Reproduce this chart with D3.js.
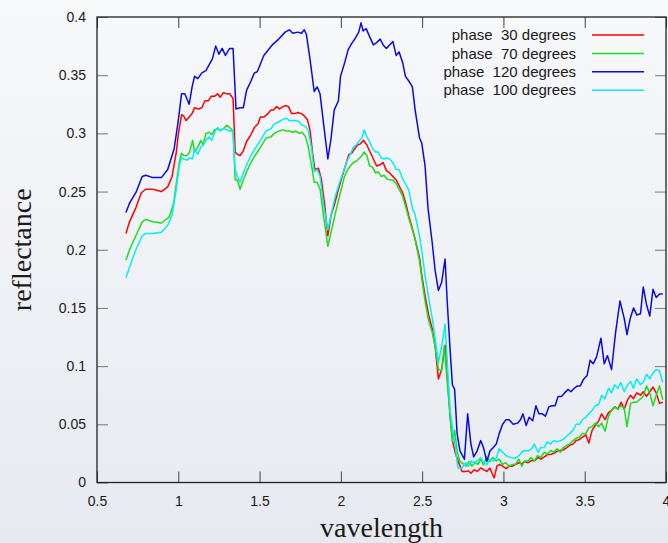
<!DOCTYPE html>
<html>
<head>
<meta charset="utf-8">
<script src="https://cdn.jsdelivr.net/npm/d3@7"></script>
<style>
  html, body { margin: 0; padding: 0; }
  body { width: 668px; height: 543px; overflow: hidden;
         background: linear-gradient(#f7f8fa, #e6eaf0); }
  text { font-family: "Liberation Sans", Arial, sans-serif; fill: #1a1a1a; }
  .title { font-family: "Liberation Serif", "Times New Roman", serif; }
</style>
</head>
<body>
<div id="chart"></div>
<script>
// wavelength (x) / reflectance (y) pairs
const phase30 = [
  [0.678,0.214],[0.70,0.224],[0.739,0.236],[0.773,0.249],[0.80,0.252],[0.844,0.252],[0.896,0.250],[0.935,0.254],
  [0.962,0.263],[0.988,0.284],[1.0,0.299],[1.02,0.316],[1.033,0.315],[1.048,0.311],[1.067,0.314],[1.085,0.317],
  [1.10,0.322],[1.125,0.321],[1.145,0.322],[1.164,0.328],[1.185,0.328],[1.203,0.332],[1.224,0.332],[1.242,0.334],
  [1.258,0.331],[1.277,0.335],[1.298,0.334],[1.316,0.334],[1.337,0.330],[1.35,0.284],[1.363,0.282],[1.38,0.281],
  [1.40,0.285],[1.42,0.293],[1.447,0.299],[1.468,0.305],[1.49,0.308],[1.505,0.314],[1.526,0.314],[1.552,0.317],
  [1.57,0.320],[1.586,0.320],[1.605,0.323],[1.623,0.321],[1.644,0.323],[1.662,0.324],[1.678,0.323],[1.697,0.317],
  [1.715,0.317],[1.736,0.318],[1.757,0.317],[1.775,0.315],[1.794,0.312],[1.81,0.303],[1.828,0.281],[1.84,0.269],
  [1.862,0.270],[1.88,0.261],[1.90,0.239],[1.92,0.212],[1.94,0.230],[1.959,0.238],[1.985,0.252],[2.01,0.264],
  [2.03,0.273],[2.05,0.282],[2.068,0.283],[2.085,0.287],[2.103,0.290],[2.12,0.291],[2.14,0.294],[2.16,0.290],
  [2.18,0.284],[2.20,0.278],[2.22,0.272],[2.24,0.273],[2.26,0.275],[2.28,0.268],[2.30,0.266],[2.32,0.263],
  [2.34,0.260],[2.358,0.255],[2.38,0.249],[2.397,0.241],[2.418,0.229],[2.44,0.218],[2.457,0.209],[2.484,0.193],
  [2.50,0.176],[2.52,0.159],[2.54,0.144],[2.562,0.132],[2.58,0.117],[2.60,0.089],[2.62,0.097],[2.641,0.118],
  [2.654,0.093],[2.672,0.057],[2.688,0.035],[2.707,0.024],[2.728,0.016],[2.746,0.0095],[2.767,0.0095],[2.785,0.010],
  [2.80,0.008],[2.82,0.011],[2.838,0.0095],[2.86,0.0125],[2.877,0.011],[2.898,0.0095],[2.917,0.0125],[2.93,0.008],
  [2.943,0.004],[2.96,0.014],[2.977,0.0155],[2.995,0.014],[3.016,0.012],[3.035,0.014],[3.056,0.014],[3.074,0.0155],
  [3.095,0.017],[3.113,0.016],[3.13,0.018],[3.152,0.017],[3.173,0.019],[3.19,0.0185],[3.213,0.0215],[3.23,0.020],
  [3.252,0.022],[3.27,0.024],[3.29,0.024],[3.31,0.025],[3.33,0.027],[3.35,0.0275],[3.368,0.028],[3.39,0.030],
  [3.407,0.032],[3.428,0.033],[3.447,0.036],[3.468,0.037],[3.486,0.039],[3.507,0.041],[3.525,0.034],[3.546,0.045],
  [3.565,0.049],[3.586,0.053],[3.604,0.059],[3.625,0.054],[3.646,0.060],[3.665,0.062],[3.686,0.065],[3.704,0.063],
  [3.725,0.069],[3.743,0.063],[3.764,0.071],[3.782,0.075],[3.80,0.072],[3.82,0.077],[3.843,0.075],[3.86,0.078],
  [3.88,0.074],[3.90,0.078],[3.92,0.082],[3.94,0.077],[3.96,0.068],[3.98,0.069]
];

const phase70 = [
  [0.678,0.191],[0.70,0.200],[0.739,0.212],[0.778,0.224],[0.80,0.226],[0.844,0.224],[0.896,0.223],[0.943,0.228],
  [0.97,0.239],[0.988,0.257],[1.006,0.275],[1.02,0.283],[1.033,0.281],[1.053,0.281],[1.07,0.284],[1.088,0.294],
  [1.10,0.284],[1.12,0.288],[1.138,0.294],[1.153,0.290],[1.17,0.300],[1.19,0.301],[1.206,0.299],[1.224,0.303],
  [1.242,0.304],[1.258,0.303],[1.277,0.304],[1.298,0.307],[1.316,0.305],[1.337,0.302],[1.35,0.260],[1.363,0.260],
  [1.38,0.252],[1.40,0.260],[1.42,0.267],[1.447,0.275],[1.473,0.281],[1.505,0.288],[1.54,0.296],[1.57,0.297],
  [1.59,0.300],[1.618,0.302],[1.644,0.303],[1.665,0.302],[1.683,0.302],[1.704,0.301],[1.723,0.302],[1.744,0.300],
  [1.762,0.301],[1.783,0.297],[1.80,0.288],[1.82,0.272],[1.836,0.258],[1.854,0.258],[1.872,0.252],[1.893,0.230],
  [1.92,0.203],[1.94,0.215],[1.964,0.230],[1.99,0.245],[2.02,0.262],[2.038,0.268],[2.058,0.272],[2.077,0.275],
  [2.095,0.276],[2.11,0.278],[2.13,0.281],[2.143,0.284],[2.16,0.281],[2.177,0.272],[2.195,0.271],[2.213,0.266],
  [2.23,0.267],[2.248,0.263],[2.266,0.264],[2.282,0.261],[2.30,0.260],[2.32,0.260],[2.34,0.257],[2.358,0.252],
  [2.38,0.246],[2.397,0.238],[2.418,0.227],[2.44,0.217],[2.457,0.209],[2.484,0.190],[2.50,0.173],[2.52,0.154],
  [2.54,0.139],[2.562,0.129],[2.58,0.117],[2.60,0.097],[2.62,0.096],[2.636,0.117],[2.654,0.087],[2.672,0.057],
  [2.686,0.035],[2.70,0.045],[2.715,0.027],[2.733,0.018],[2.754,0.016],[2.772,0.014],[2.79,0.018],[2.806,0.014],
  [2.825,0.017],[2.843,0.0155],[2.86,0.020],[2.877,0.015],[2.896,0.022],[2.917,0.018],[2.935,0.0215],[2.956,0.0185],
  [2.974,0.020],[2.995,0.0155],[3.013,0.017],[3.035,0.014],[3.056,0.0155],[3.074,0.0155],[3.095,0.020],[3.113,0.014],
  [3.13,0.0185],[3.152,0.0185],[3.17,0.0215],[3.19,0.0185],[3.21,0.023],[3.23,0.0215],[3.252,0.026],[3.27,0.0245],
  [3.29,0.0275],[3.31,0.026],[3.33,0.029],[3.35,0.026],[3.368,0.030],[3.39,0.032],[3.407,0.033],[3.428,0.036],
  [3.447,0.038],[3.468,0.039],[3.486,0.042],[3.507,0.042],[3.525,0.047],[3.546,0.048],[3.565,0.051],[3.586,0.048],
  [3.604,0.051],[3.625,0.044],[3.646,0.057],[3.665,0.062],[3.684,0.065],[3.704,0.063],[3.722,0.066],[3.743,0.064],
  [3.76,0.048],[3.782,0.068],[3.80,0.069],[3.82,0.069],[3.843,0.072],[3.86,0.074],[3.88,0.083],[3.90,0.077],
  [3.92,0.066],[3.94,0.075],[3.96,0.083],[3.98,0.071]
];

const phase120 = [
  [0.678,0.232],[0.70,0.240],[0.739,0.249],[0.778,0.263],[0.80,0.264],[0.844,0.262],[0.896,0.262],[0.935,0.269],
  [0.975,0.287],[1.0,0.311],[1.02,0.334],[1.04,0.334],[1.067,0.325],[1.085,0.340],[1.10,0.349],[1.12,0.347],
  [1.145,0.352],[1.17,0.354],[1.21,0.364],[1.23,0.375],[1.25,0.368],[1.27,0.373],[1.29,0.367],[1.316,0.373],
  [1.337,0.373],[1.355,0.321],[1.38,0.322],[1.40,0.322],[1.42,0.337],[1.447,0.345],[1.468,0.352],[1.486,0.353],
  [1.526,0.367],[1.578,0.376],[1.618,0.381],[1.657,0.387],[1.683,0.389],[1.704,0.386],[1.736,0.387],[1.757,0.386],
  [1.775,0.389],[1.788,0.385],[1.81,0.364],[1.836,0.336],[1.854,0.340],[1.872,0.334],[1.893,0.309],[1.92,0.278],
  [1.94,0.296],[1.959,0.320],[1.985,0.328],[1.998,0.349],[2.024,0.361],[2.045,0.372],[2.07,0.378],[2.09,0.382],
  [2.11,0.387],[2.124,0.395],[2.137,0.388],[2.156,0.390],[2.174,0.384],[2.20,0.376],[2.22,0.378],[2.242,0.381],
  [2.26,0.376],[2.28,0.373],[2.30,0.376],[2.32,0.379],[2.34,0.367],[2.358,0.370],[2.38,0.361],[2.397,0.349],
  [2.418,0.345],[2.44,0.340],[2.457,0.320],[2.484,0.296],[2.497,0.292],[2.518,0.272],[2.536,0.236],[2.562,0.206],
  [2.58,0.182],[2.60,0.165],[2.62,0.172],[2.641,0.192],[2.654,0.156],[2.672,0.114],[2.686,0.084],[2.70,0.080],
  [2.715,0.042],[2.733,0.027],[2.76,0.020],[2.78,0.059],[2.80,0.033],[2.817,0.022],[2.838,0.027],[2.86,0.036],
  [2.877,0.030],[2.898,0.018],[2.917,0.027],[2.938,0.030],[2.956,0.033],[2.974,0.042],[2.995,0.050],[3.016,0.054],
  [3.035,0.054],[3.06,0.050],[3.087,0.051],[3.105,0.054],[3.12,0.059],[3.14,0.049],[3.158,0.056],[3.18,0.053],
  [3.20,0.066],[3.218,0.059],[3.24,0.059],[3.258,0.057],[3.28,0.065],[3.297,0.066],[3.318,0.066],[3.336,0.074],
  [3.357,0.074],[3.376,0.077],[3.397,0.080],[3.415,0.078],[3.436,0.081],[3.455,0.083],[3.473,0.083],[3.494,0.089],
  [3.515,0.092],[3.533,0.105],[3.552,0.102],[3.573,0.108],[3.60,0.124],[3.62,0.102],[3.64,0.109],[3.665,0.097],
  [3.69,0.129],[3.717,0.156],[3.743,0.141],[3.76,0.127],[3.78,0.141],[3.80,0.150],[3.82,0.144],[3.843,0.145],
  [3.86,0.168],[3.88,0.153],[3.90,0.143],[3.92,0.166],[3.94,0.159],[3.96,0.162],[3.98,0.162]
];

const phase100 = [
  [0.678,0.176],[0.70,0.185],[0.739,0.200],[0.778,0.212],[0.80,0.214],[0.844,0.214],[0.896,0.215],[0.935,0.221],
  [0.962,0.230],[0.988,0.252],[1.006,0.272],[1.02,0.279],[1.033,0.278],[1.053,0.277],[1.07,0.279],[1.088,0.278],
  [1.10,0.287],[1.12,0.282],[1.138,0.288],[1.153,0.290],[1.17,0.294],[1.19,0.297],[1.206,0.294],[1.224,0.301],
  [1.242,0.305],[1.258,0.302],[1.277,0.304],[1.298,0.303],[1.316,0.302],[1.337,0.302],[1.35,0.269],[1.363,0.263],
  [1.38,0.258],[1.40,0.266],[1.42,0.273],[1.447,0.281],[1.473,0.287],[1.505,0.294],[1.54,0.302],[1.57,0.304],
  [1.59,0.308],[1.618,0.310],[1.644,0.312],[1.665,0.313],[1.683,0.311],[1.704,0.311],[1.723,0.311],[1.744,0.310],
  [1.762,0.307],[1.783,0.306],[1.80,0.302],[1.82,0.287],[1.836,0.267],[1.854,0.269],[1.872,0.263],[1.893,0.239],
  [1.92,0.217],[1.94,0.230],[1.964,0.245],[1.99,0.257],[2.02,0.269],[2.038,0.276],[2.058,0.282],[2.077,0.288],
  [2.095,0.290],[2.11,0.293],[2.13,0.296],[2.143,0.303],[2.16,0.297],[2.177,0.293],[2.195,0.287],[2.213,0.284],
  [2.23,0.284],[2.248,0.279],[2.266,0.278],[2.282,0.279],[2.30,0.278],[2.32,0.275],[2.34,0.269],[2.358,0.269],
  [2.38,0.261],[2.397,0.257],[2.418,0.251],[2.44,0.236],[2.457,0.230],[2.484,0.212],[2.50,0.197],[2.52,0.176],
  [2.54,0.159],[2.562,0.141],[2.58,0.124],[2.60,0.103],[2.62,0.117],[2.641,0.136],[2.654,0.105],[2.672,0.063],
  [2.688,0.045],[2.70,0.035],[2.72,0.0125],[2.746,0.0125],[2.767,0.017],[2.785,0.014],[2.80,0.0185],[2.82,0.017],
  [2.838,0.0185],[2.86,0.0215],[2.877,0.017],[2.898,0.0155],[2.917,0.020],[2.938,0.0185],[2.956,0.021],[2.974,0.029],
  [2.995,0.026],[3.016,0.023],[3.035,0.022],[3.056,0.021],[3.074,0.021],[3.095,0.023],[3.113,0.026],[3.13,0.0275],
  [3.152,0.027],[3.173,0.029],[3.19,0.033],[3.213,0.026],[3.23,0.030],[3.252,0.030],[3.27,0.035],[3.29,0.033],
  [3.31,0.036],[3.33,0.035],[3.35,0.036],[3.368,0.037],[3.39,0.040],[3.407,0.042],[3.428,0.045],[3.447,0.050],
  [3.468,0.050],[3.486,0.054],[3.507,0.056],[3.525,0.059],[3.546,0.062],[3.565,0.066],[3.586,0.067],[3.604,0.075],
  [3.625,0.072],[3.646,0.081],[3.665,0.077],[3.684,0.084],[3.704,0.081],[3.722,0.086],[3.743,0.078],[3.76,0.083],
  [3.782,0.087],[3.80,0.081],[3.82,0.089],[3.843,0.084],[3.86,0.086],[3.88,0.093],[3.90,0.089],[3.92,0.094],
  [3.94,0.097],[3.96,0.096],[3.98,0.086]
];

const seriesNames = ["phase  30 degrees", "phase  70 degrees", "phase  120 degrees", "phase  100 degrees"];
const seriesColors = ["#ff0000", "#1fdc1f", "#0a0ae6", "#00f0f0"];
const xTicks = [0.5, 1, 1.5, 2, 2.5, 3, 3.5, 4];
const yTicks = [0, 0.05, 0.1, 0.15, 0.2, 0.25, 0.3, 0.35, 0.4];

// set the dimensions and margins of the graph
const margin = {top: 17, right: 2, bottom: 60.5, left: 97},
      width = 668 - margin.left - margin.right,
      height = 543 - margin.top - margin.bottom;

const svg = d3.select("#chart")
              .append("svg")
              .attr("width", 668)
              .attr("height", 543);

const g = svg.append("g")
             .attr("transform", `translate(${margin.left},${margin.top})`);

let x = d3.scaleLinear().domain([0.5, 4]).range([0, width]);
let y = d3.scaleLinear().domain([0, 0.4]).range([height, 0]);

const tickLen = 11;

// ticks on all four sides, pointing inward
g.append("g")
 .attr("transform", `translate(0,${height})`)
 .call(d3.axisBottom(x).tickValues(xTicks).tickSize(-tickLen).tickPadding(13.5).tickFormat(d3.format("")))
 .call(a => a.select(".domain").remove())
 .call(a => a.selectAll("line").attr("stroke", "#444"))
 .call(a => a.selectAll("text").style("font-size", "14px").attr("fill", "#1a1a1a"));

g.append("g")
 .call(d3.axisTop(x).tickValues(xTicks).tickSize(-tickLen).tickFormat(""))
 .call(a => a.select(".domain").remove())
 .call(a => a.selectAll("line").attr("stroke", "#444"));

g.append("g")
 .call(d3.axisLeft(y).tickValues(yTicks).tickSize(-tickLen).tickPadding(11).tickFormat(d3.format("")))
 .call(a => a.select(".domain").remove())
 .call(a => a.selectAll("line").attr("stroke", "#777"))
 .call(a => a.selectAll("text").style("font-size", "14px").attr("fill", "#1a1a1a"));

g.append("g")
 .attr("transform", `translate(${width},0)`)
 .call(d3.axisRight(y).tickValues(yTicks).tickSize(-tickLen).tickFormat(""))
 .call(a => a.select(".domain").remove())
 .call(a => a.selectAll("line").attr("stroke", "#777"));

// frame
g.append("rect")
 .attr("width", width)
 .attr("height", height)
 .attr("fill", "none")
 .attr("stroke", "#222")
 .attr("stroke-width", 1.3);

// lines
const line = d3.line()
               .x(d => x(d[0]))
               .y(d => y(d[1]));

const allSeries = [phase30, phase70, phase120, phase100];

g.selectAll(".spectrum")
 .data(allSeries)
 .join("path")
 .attr("class", "spectrum")
 .attr("d", d => line(d))
 .attr("fill", "none")
 .attr("stroke", (d, i) => seriesColors[i])
 .attr("stroke-width", 1.5)
 .attr("stroke-linejoin", "round");

// legend
const legend = svg.append("g").attr("transform", "translate(576,35)");
seriesNames.forEach((name, i) => {
  const row = legend.append("g").attr("transform", `translate(0,${i * 18.4})`);
  row.append("text")
     .attr("x", 0)
     .attr("dy", "0.35em")
     .attr("text-anchor", "end")
     .style("font-size", "15px")
     .style("white-space", "pre")
     .attr("xml:space", "preserve")
     .text(name);
  row.append("line")
     .attr("x1", 16).attr("x2", 68)
     .attr("stroke", seriesColors[i])
     .attr("stroke-width", 1.5);
});

// axis titles
svg.append("text")
   .attr("class", "title")
   .attr("transform", `translate(31,${margin.top + height / 2}) rotate(-90)`)
   .attr("text-anchor", "middle")
   .style("font-size", "28px")
   .text("reflectance");

svg.append("text")
   .attr("class", "title")
   .attr("x", margin.left + width / 2)
   .attr("y", 537)
   .attr("text-anchor", "middle")
   .style("font-size", "28px")
   .text("vavelength");
</script>
</body>
</html>
